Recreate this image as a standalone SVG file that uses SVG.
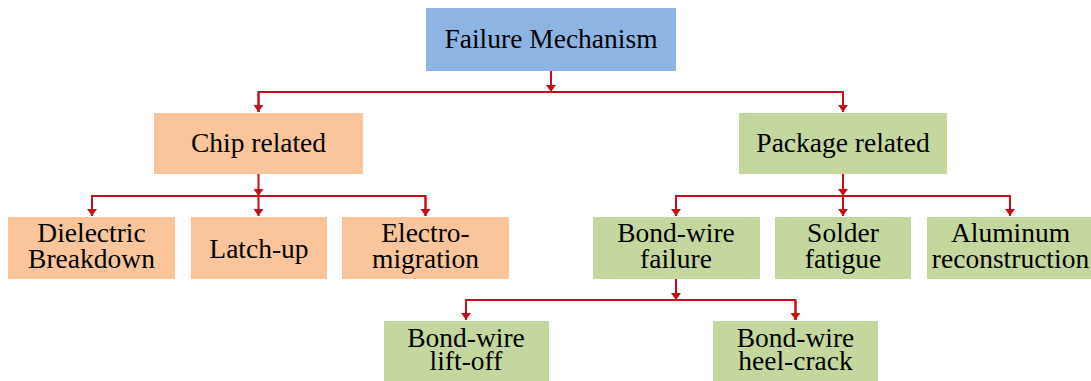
<svg xmlns="http://www.w3.org/2000/svg" width="1091" height="381" viewBox="0 0 1091 381">
  <style>
    .lbl { font-family: "Liberation Serif", "Times New Roman", serif; font-size: 27.5px; fill: #000; text-anchor: middle; }
    .blue { fill: #8EB4E3; }
    .orange { fill: #FAC59B; }
    .green { fill: #C4D79E; }
    .wire { stroke: #C5101A; stroke-width: 2; fill: none; }
  </style>
  <defs>
    <marker id="arrow" markerUnits="userSpaceOnUse" markerWidth="10" markerHeight="10" refX="7" refY="5" orient="auto">
      <path d="M0,0 L7,5 L0,10 z" fill="#C5101A"/>
    </marker>
  </defs>

  <rect width="1091" height="381" fill="#fff"/>

  <!-- connectors -->
  <g id="connectors">
    <line class="wire" x1="551" y1="71" x2="551" y2="92" marker-end="url(#arrow)"/>
    <polyline class="wire" points="258.5,112 258.5,92 843,92 843,112"/>
    <line class="wire" x1="258.5" y1="93" x2="258.5" y2="112" marker-end="url(#arrow)"/>
    <line class="wire" x1="843" y1="93" x2="843" y2="112" marker-end="url(#arrow)"/>

    <line class="wire" x1="258.5" y1="174" x2="258.5" y2="196" marker-end="url(#arrow)"/>
    <polyline class="wire" points="92,216 92,196 425.5,196 425.5,216"/>
    <line class="wire" x1="92" y1="197" x2="92" y2="216" marker-end="url(#arrow)"/>
    <line class="wire" x1="258.5" y1="197" x2="258.5" y2="216" marker-end="url(#arrow)"/>
    <line class="wire" x1="425.5" y1="197" x2="425.5" y2="216" marker-end="url(#arrow)"/>

    <line class="wire" x1="843" y1="174" x2="843" y2="196" marker-end="url(#arrow)"/>
    <polyline class="wire" points="676,216 676,196 1010,196 1010,216"/>
    <line class="wire" x1="676" y1="197" x2="676" y2="216" marker-end="url(#arrow)"/>
    <line class="wire" x1="843" y1="197" x2="843" y2="216" marker-end="url(#arrow)"/>
    <line class="wire" x1="1010" y1="197" x2="1010" y2="216" marker-end="url(#arrow)"/>

    <line class="wire" x1="676" y1="279" x2="676" y2="300" marker-end="url(#arrow)"/>
    <polyline class="wire" points="466,320 466,300 795.5,300 795.5,320"/>
    <line class="wire" x1="466" y1="301" x2="466" y2="320" marker-end="url(#arrow)"/>
    <line class="wire" x1="795.5" y1="301" x2="795.5" y2="320" marker-end="url(#arrow)"/>
  </g>

  <g id="failure-mechanism">
    <rect class="blue" x="426" y="8" width="250" height="63"/>
    <text class="lbl" x="551" y="48">Failure Mechanism</text>
  </g>

  <g id="chip-related">
    <rect class="orange" x="154" y="113" width="209" height="61"/>
    <text class="lbl" x="258.5" y="152">Chip related</text>
  </g>

  <g id="package-related">
    <rect class="green" x="739" y="113" width="208" height="61"/>
    <text class="lbl" x="843" y="152">Package related</text>
  </g>

  <g id="dielectric-breakdown">
    <rect class="orange" x="8" y="217" width="167" height="62"/>
    <text class="lbl" x="91.5" y="242">Dielectric</text>
    <text class="lbl" x="91.5" y="268">Breakdown</text>
  </g>

  <g id="latch-up">
    <rect class="orange" x="191" y="217" width="136" height="62"/>
    <text class="lbl" x="259" y="258">Latch-up</text>
  </g>

  <g id="electromigration">
    <rect class="orange" x="342" y="217" width="167" height="62"/>
    <text class="lbl" x="425.5" y="242">Electro-</text>
    <text class="lbl" x="425.5" y="268">migration</text>
  </g>

  <g id="bond-wire-failure">
    <rect class="green" x="593" y="217" width="167" height="62"/>
    <text class="lbl" x="676" y="242">Bond-wire</text>
    <text class="lbl" x="676" y="268">failure</text>
  </g>

  <g id="solder-fatigue">
    <rect class="green" x="775" y="217" width="136" height="62"/>
    <text class="lbl" x="843" y="242">Solder</text>
    <text class="lbl" x="843" y="268">fatigue</text>
  </g>

  <g id="aluminum-reconstruction">
    <rect class="green" x="927" y="217" width="166" height="62"/>
    <text class="lbl" x="1010.5" y="242">Aluminum</text>
    <text class="lbl" x="1010.5" y="268">reconstruction</text>
  </g>

  <g id="lift-off">
    <rect class="green" x="384" y="321" width="165" height="60"/>
    <text class="lbl" x="466" y="347">Bond-wire</text>
    <text class="lbl" x="466" y="370">lift-off</text>
  </g>

  <g id="heel-crack">
    <rect class="green" x="713" y="321" width="165" height="60"/>
    <text class="lbl" x="795.5" y="347">Bond-wire</text>
    <text class="lbl" x="795.5" y="370">heel-crack</text>
  </g>
</svg>
